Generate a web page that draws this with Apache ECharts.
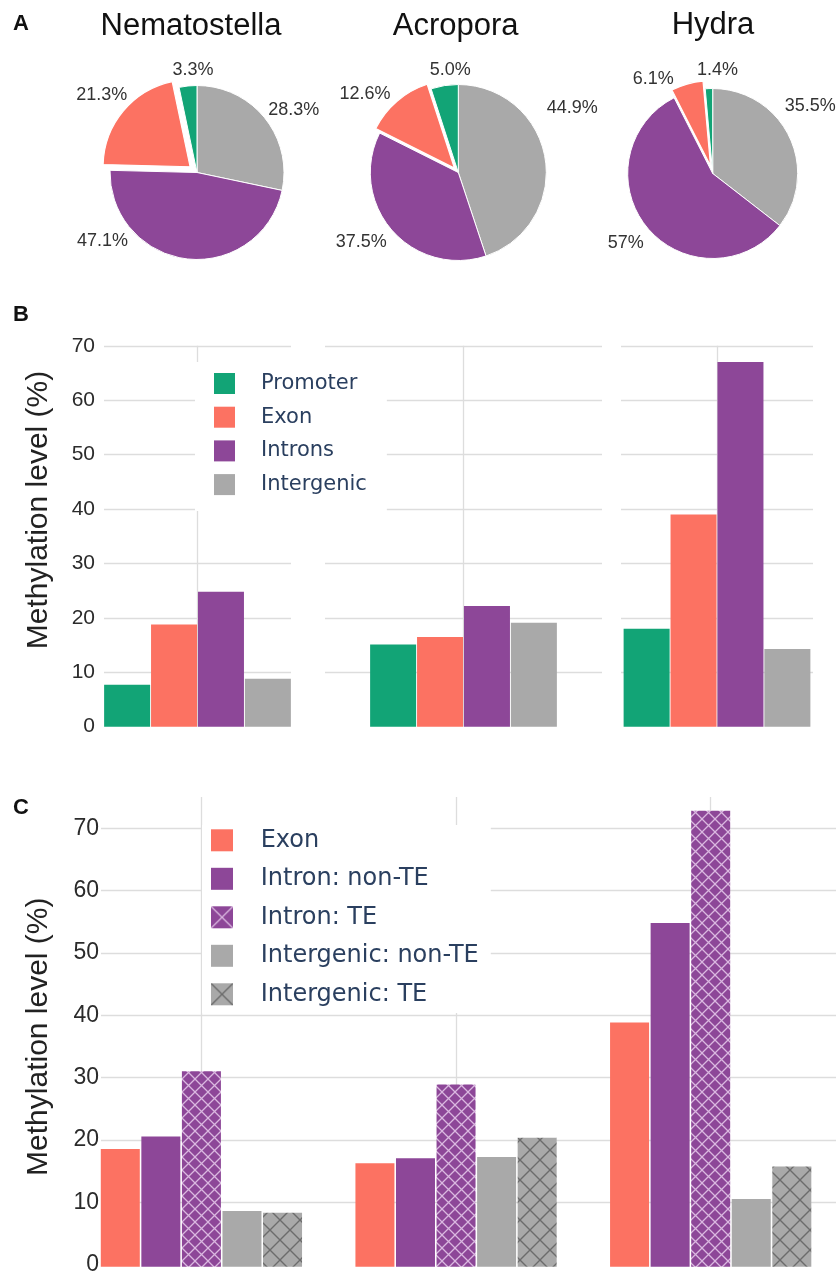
<!DOCTYPE html>
<html>
<head>
<meta charset="utf-8">
<script src="https://cdn.jsdelivr.net/npm/echarts@6/dist/echarts.min.js"></script>
<style>
  html, body { margin: 0; padding: 0; background: #fff; }
  #chart { width: 838px; height: 1276px; }
</style>
</head>
<body>
<div id="chart"></div>
<script>
// ---- data ----
const speciesNames = ['Nematostella', 'Acropora', 'Hydra'];
const regionNames = ['Promoter', 'Exon', 'Introns', 'Intergenic'];

// Share of methylated CpGs falling in each region (%), ordered as regionNames
const nematostellaShare = ['3.3', '21.3', '47.1', '28.3'];
const acroporaShare = ['5.0', '12.6', '37.5', '44.9'];
const hydraShare = ['1.4', '6.1', '57', '35.5'];

// Methylation level (%) by region, one value per species
const promoterLevel = [7.7, 15.1, 18.0];
const exonLevel = [18.8, 16.5, 39.0];
const intronLevel = [24.8, 22.2, 67.0];
const intergenicLevel = [8.8, 19.1, 14.3];

// Methylation level (%) split by overlap with transposable elements
const teClassNames = ['Exon', 'Intron: non-TE', 'Intron: TE', 'Intergenic: non-TE', 'Intergenic: TE'];
const intronNonTELevel = [20.8, 17.3, 54.9];
const intronTELevel = [31.2, 29.1, 72.8];
const intergenicNonTELevel = [8.9, 17.5, 10.8];
const intergenicTELevel = [8.6, 20.6, 16.0];

const levelAxis = { min: 0, max: 70, interval: 10 };

// ---- styling / layout ----
const SANS = '"Liberation Sans", Arial, Helvetica, sans-serif';
const LEGEND_FONT = '"DejaVu Sans", Verdana, sans-serif';
const COLORS = { Promoter: '#12a476', Exon: '#fc7262', Introns: '#8d4798', Intergenic: '#a9a9a9' };
const CLEAR = 'rgba(0,0,0,0)';
const GRID_LINE = '#dddddd';
const TICK_COLOR = '#2b2b2b';

// pies: centre, radius and pull of the exon wedge
const PIES = [
  { center: [197, 172.5], r: 87, pull: 9 },
  { center: [458.3, 172.5], r: 88, pull: 6 },
  { center: [712.7, 173.5], r: 85, pull: 8 }
];
// percentage label centre relative to pie centre, in regionNames order
const PIE_LABEL_AT = [
  [[-4, -102.5], [-95.3, -77.5], [-94.5, 68.5], [96.8, -62]],
  [[-8, -102.5], [-93.3, -78], [-97, 70], [114, -64]],
  [[4.8, -103], [-59.4, -94.7], [-87, 70], [97.5, -67]]
];
const PIE_ORDER = [3, 2, 1, 0]; // clockwise from 12 o'clock: Intergenic, Introns, Exon, Promoter
const PULLED = 'Exon';

// panel B facets (pixel extents of each sub-plot)
const B_TOP = 345.8, B_BOTTOM = 726.7;
const B_FACETS = [
  { left: 104, right: 291 },
  { left: 325, right: 602 },
  { left: 621, right: 813 }
];
// panel C: gridline frame and bar frame share the same vertical scale
const C_FRAME = { left: 101, right: 836, top: 828.3, bottom: 1266.7 };
const C_BARS = { left: 74.1, width: 764.3, top: 797, bottom: 1266.7, max: 75 };

function crossHatch(size, bg, line, lw) {
  const c = document.createElement('canvas');
  c.width = size; c.height = size;
  const g = c.getContext('2d');
  g.fillStyle = bg;
  g.fillRect(0, 0, size, size);
  g.strokeStyle = line;
  g.lineWidth = lw;
  g.beginPath();
  g.moveTo(0, 0); g.lineTo(size, size);
  g.moveTo(size, 0); g.lineTo(0, size);
  g.stroke();
  return { image: c, repeat: 'repeat' };
}
const intronTEFill = crossHatch(13, COLORS.Introns, 'rgba(232,205,236,0.85)', 1.3);
const intergenicTEFill = crossHatch(20, COLORS.Intergenic, '#6c6c6c', 1.4);

// unit vector from the pie centre through the middle of a wedge (clockwise from 12 o'clock)
function wedgeDirection(share, key) {
  const total = PIE_ORDER.reduce((a, k) => a + Number(share[k]), 0);
  let acc = 0;
  for (const k of PIE_ORDER) {
    const v = Number(share[k]);
    if (regionNames[k] === key) {
      const mid = (acc + v / 2) / total * 2 * Math.PI;
      return [Math.sin(mid), -Math.cos(mid)];
    }
    acc += v;
  }
  return [0, 0];
}

const grids = [], xAxes = [], yAxes = [], series = [];

// ---- panel A: pies ----
const shares = [nematostellaShare, acroporaShare, hydraShare];
shares.forEach((share, s) => {
  const pie = PIES[s];
  const pieBase = {
    type: 'pie',
    radius: pie.r,
    startAngle: 90,
    clockwise: true,
    avoidLabelOverlap: false,
    silent: true,
    emphasis: { disabled: true }
  };
  // whole pie, with the pulled wedge left empty; carries the percentage labels
  series.push({
    ...pieBase,
    name: speciesNames[s],
    center: pie.center,
    label: {
      show: true,
      position: 'outside',
      fontFamily: SANS,
      fontSize: 18,
      color: '#333',
      formatter: p => share[PIE_ORDER[p.dataIndex]] + '%'
    },
    labelLine: { show: false },
    labelLayout: p => {
      const d = PIE_LABEL_AT[s][PIE_ORDER[p.dataIndex]];
      return { x: pie.center[0] + d[0], y: pie.center[1] + d[1], align: 'center', verticalAlign: 'middle' };
    },
    data: PIE_ORDER.map(k => {
      const name = regionNames[k];
      const pulled = name === PULLED;
      return {
        name, value: Number(share[k]),
        itemStyle: pulled ? { color: CLEAR, borderWidth: 0 }
                          : { color: COLORS[name], borderColor: '#fff', borderWidth: 1 }
      };
    })
  });
  // the same pie shifted outwards, showing only the pulled wedge
  const dir = wedgeDirection(share, PULLED);
  series.push({
    ...pieBase,
    center: [pie.center[0] + dir[0] * pie.pull, pie.center[1] + dir[1] * pie.pull],
    label: { show: false },
    labelLine: { show: false },
    data: PIE_ORDER.map(k => {
      const name = regionNames[k];
      const pulled = name === PULLED;
      return {
        name, value: Number(share[k]),
        itemStyle: pulled ? { color: COLORS[name], borderColor: '#fff', borderWidth: 1.2 }
                          : { color: CLEAR, borderWidth: 0 }
      };
    })
  });
});

// vertical guide at each species position, drawn under the bars
const vLine = { color: GRID_LINE, width: 1.3, type: 'solid' };
function guideSeries(axisIndex, names) {
  return {
    type: 'line', xAxisIndex: axisIndex, yAxisIndex: axisIndex, data: [], silent: true,
    markLine: { z: 1, silent: true, symbol: 'none', label: { show: false }, lineStyle: vLine,
      data: names.map(n => ({ xAxis: n })) }
  };
}

// ---- panel B: methylation level by region ----
const regionLevels = [promoterLevel, exonLevel, intronLevel, intergenicLevel];
B_FACETS.forEach((f, i) => {
  grids.push({ left: f.left, width: f.right - f.left, top: B_TOP, height: B_BOTTOM - B_TOP });
  xAxes.push({ type: 'category', gridIndex: i, data: [speciesNames[i]], show: false });
  yAxes.push({
    type: 'value', gridIndex: i, ...levelAxis,
    axisLine: { show: false }, axisTick: { show: false },
    axisLabel: { show: i === 0, fontFamily: SANS, fontSize: 21, color: TICK_COLOR, margin: 9 },
    splitLine: { show: true, showMinLine: false, lineStyle: { color: GRID_LINE, width: 1.3 } }
  });
  series.push(guideSeries(i, [speciesNames[i]]));
  regionNames.forEach((r, k) => {
    series.push({
      type: 'bar', name: r, xAxisIndex: i, yAxisIndex: i,
      data: [regionLevels[k][i]],
      barWidth: 46, barGap: '2%',
      itemStyle: { color: COLORS[r] },
      emphasis: { disabled: true }
    });
  });
});

// ---- panel C: split by transposable elements ----
const cFrame = grids.length;
grids.push({ left: C_FRAME.left, width: C_FRAME.right - C_FRAME.left, top: C_FRAME.top, height: C_FRAME.bottom - C_FRAME.top });
xAxes.push({ type: 'category', gridIndex: cFrame, data: [''], show: false });
yAxes.push({
  type: 'value', gridIndex: cFrame, ...levelAxis,
  axisLine: { show: false }, axisTick: { show: false },
  axisLabel: { fontFamily: SANS, fontSize: 23, color: TICK_COLOR, margin: 2 },
  splitLine: { show: true, showMinLine: false, lineStyle: { color: GRID_LINE, width: 1.3 } }
});
const cBars = grids.length;
grids.push({ left: C_BARS.left, width: C_BARS.width, top: C_BARS.top, height: C_BARS.bottom - C_BARS.top });
xAxes.push({ type: 'category', gridIndex: cBars, data: speciesNames, show: false });
yAxes.push({ type: 'value', gridIndex: cBars, min: 0, max: C_BARS.max, show: false, splitLine: { show: false } });
series.push(guideSeries(cBars, speciesNames));

const teLevels = [exonLevel, intronNonTELevel, intronTELevel, intergenicNonTELevel, intergenicTELevel];
const teFills = [COLORS.Exon, COLORS.Introns, intronTEFill, COLORS.Intergenic, intergenicTEFill];
teClassNames.forEach((name, k) => {
  series.push({
    type: 'bar', name, xAxisIndex: cBars, yAxisIndex: cBars,
    data: teLevels[k],
    barWidth: 39, barGap: '4%',
    itemStyle: { color: teFills[k] },
    emphasis: { disabled: true }
  });
});

// legend icons for the hatched classes: one cross per swatch
const intronTEIcon = crossHatch(22, COLORS.Introns, 'rgba(232,205,236,0.85)', 1.3);
const intergenicTEIcon = crossHatch(22, COLORS.Intergenic, '#6c6c6c', 1.4);

const legendCommon = {
  orient: 'vertical', icon: 'rect', selectedMode: false, backgroundColor: '#fff', z: 4
};

const titleStyle = { fontFamily: SANS, fontSize: 31, fill: '#111', align: 'center', verticalAlign: 'middle' };
const letterStyle = { fontFamily: SANS, fontSize: 22, fontWeight: 'bold', fill: '#111', align: 'left', verticalAlign: 'middle' };
const yTitleStyle = { text: 'Methylation level (%)', fontFamily: SANS, fontSize: 30, fill: '#222', align: 'center', verticalAlign: 'middle' };

const option = {
  animation: false,
  backgroundColor: '#fff',
  grid: grids,
  xAxis: xAxes,
  yAxis: yAxes,
  legend: [
    {
      ...legendCommon,
      data: regionNames,
      left: 195, top: 362,
      padding: [11, 20, 16, 19],
      itemWidth: 21, itemHeight: 21, itemGap: 12.7,
      textStyle: { fontFamily: LEGEND_FONT, fontSize: 21, color: '#2a3f5f', padding: [0, 0, 0, 21], lineHeight: 21 }
    },
    {
      ...legendCommon,
      data: teClassNames.map(n => {
        if (n === 'Intron: TE') return { name: n, itemStyle: { color: intronTEIcon } };
        if (n === 'Intergenic: TE') return { name: n, itemStyle: { color: intergenicTEIcon } };
        return { name: n };
      }),
      left: 202, top: 825,
      padding: [3.3, 12, 6.7, 9],
      itemWidth: 22, itemHeight: 22, itemGap: 14.5,
      textStyle: { fontFamily: LEGEND_FONT, fontSize: 24, color: '#2a3f5f', padding: [0, 0, 0, 22.7], lineHeight: 22 }
    }
  ],
  graphic: [
    { type: 'text', x: 13, y: 23.5, style: { ...letterStyle, text: 'A' } },
    { type: 'text', x: 13, y: 315, style: { ...letterStyle, text: 'B' } },
    { type: 'text', x: 13, y: 808, style: { ...letterStyle, text: 'C' } },
    { type: 'text', x: 191, y: 26, style: { ...titleStyle, text: speciesNames[0] } },
    { type: 'text', x: 455.6, y: 26, style: { ...titleStyle, text: speciesNames[1] } },
    { type: 'text', x: 713, y: 25.5, style: { ...titleStyle, text: speciesNames[2] } },
    { type: 'text', x: 38.5, y: 510, rotation: Math.PI / 2, style: yTitleStyle },
    { type: 'text', x: 39, y: 1036.7, rotation: Math.PI / 2, style: yTitleStyle }
  ],
  series
};

const chart = echarts.init(document.getElementById('chart'), null, { renderer: 'canvas' });
chart.setOption(option);
</script>
</body>
</html>
